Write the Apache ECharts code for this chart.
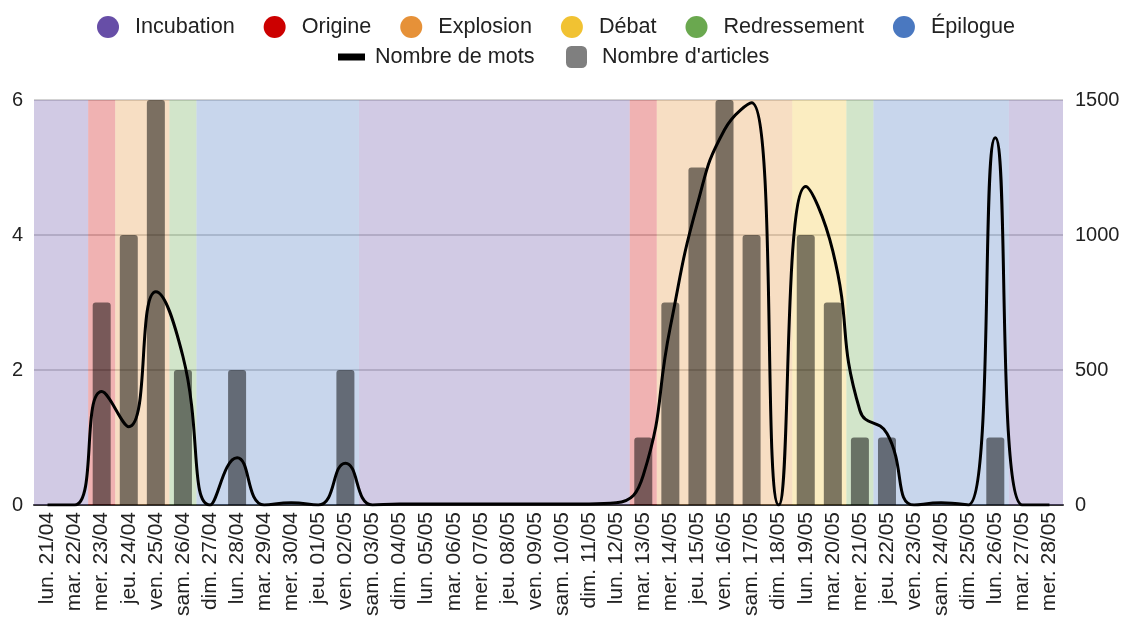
<!DOCTYPE html>
<html>
<head>
<meta charset="utf-8">
<script src="https://cdn.jsdelivr.net/npm/echarts@6/dist/echarts.min.js"></script>
<style>
  html, body { margin: 0; padding: 0; background: #fff; }
  #chart { width: 1125px; height: 621px; }
</style>
</head>
<body>
<div id="chart"></div>
<script>
// jours affichés
var categories = ['lun. 21/04', 'mar. 22/04', 'mer. 23/04', 'jeu. 24/04', 'ven. 25/04', 'sam. 26/04', 'dim. 27/04',
  'lun. 28/04', 'mar. 29/04', 'mer. 30/04', 'jeu. 01/05', 'ven. 02/05', 'sam. 03/05', 'dim. 04/05',
  'lun. 05/05', 'mar. 06/05', 'mer. 07/05', 'jeu. 08/05', 'ven. 09/05', 'sam. 10/05', 'dim. 11/05',
  'lun. 12/05', 'mar. 13/05', 'mer. 14/05', 'jeu. 15/05', 'ven. 16/05', 'sam. 17/05', 'dim. 18/05',
  'lun. 19/05', 'mar. 20/05', 'mer. 21/05', 'jeu. 22/05', 'ven. 23/05', 'sam. 24/05', 'dim. 25/05',
  'lun. 26/05', 'mar. 27/05', 'mer. 28/05'];

var articles = [0, 0, 3, 4, 6, 2, 0, 2, 0, 0, 0, 2, 0, 0, 0, 0, 0, 0, 0, 0, 0, 0,
  1, 3, 5, 6, 4, 0, 4, 3, 1, 1, 0, 0, 0, 1, 0, 0];

var mots = [0, 0, 420, 290, 790, 550, 0, 175, 0, 8, 0, 155, 0, 4, 4, 4, 4, 4, 4, 4, 4, 8,
  110, 660, 1115, 1390, 1490, 0, 1180, 940, 350, 265, 0, 8, 0, 1360, 0, 0];

var leftTicks = [0, 2, 4, 6];
var rightTicks = [0, 500, 1000, 1500];

// phases : [premier jour, dernier jour]
var incubation = [['lun. 21/04', 'mar. 22/04'], ['sam. 03/05', 'lun. 12/05'], ['mar. 27/05', 'mer. 28/05']];
var origine = [['mer. 23/04', 'mer. 23/04'], ['mar. 13/05', 'mar. 13/05']];
var explosion = [['jeu. 24/04', 'ven. 25/04'], ['mer. 14/05', 'dim. 18/05']];
var debat = [['lun. 19/05', 'mar. 20/05']];
var redressement = [['sam. 26/04', 'sam. 26/04'], ['mer. 21/05', 'mer. 21/05']];
var epilogue = [['dim. 27/04', 'ven. 02/05'], ['jeu. 22/05', 'lun. 26/05']];

var phases = [
  { name: 'Incubation', color: '#674ea7', ranges: incubation },
  { name: 'Origine', color: '#cc0000', ranges: origine },
  { name: 'Explosion', color: '#e69138', ranges: explosion },
  { name: 'Débat', color: '#f1c232', ranges: debat },
  { name: 'Redressement', color: '#6aa84f', ranges: redressement },
  { name: 'Épilogue', color: '#4a78c0', ranges: epilogue }
];

var font = "'Liberation Sans', Arial, sans-serif";

function phaseSeries(p) {
  return {
    name: p.name,
    type: 'line',
    xAxisIndex: 1,
    yAxisIndex: 0,
    data: [],
    color: p.color,
    markArea: {
      silent: true,
      itemStyle: { color: p.color, opacity: 0.3 },
      data: p.ranges.map(function (r) {
        return [{ xAxis: categories.indexOf(r[0]) }, { xAxis: categories.indexOf(r[1]) + 1 }];
      })
    }
  };
}

var chart = echarts.init(document.getElementById('chart'));
var option = {
  animation: false,
  textStyle: { fontFamily: font },
  legend: [
    {
      data: phases.map(function (p) { return p.name; }),
      left: 92, top: 11,
      icon: 'circle',
      itemWidth: 44, itemHeight: 22, itemGap: 29,
      textStyle: { fontSize: 21.6, color: '#222', fontFamily: font }
    },
    {
      data: [{ name: 'Nombre de mots', icon: 'rect' }],
      left: 333, top: 41,
      itemWidth: 27, itemHeight: 7,
      textStyle: { fontSize: 21.6, color: '#222', fontFamily: font, padding: [0, 0, 0, 5] }
    },
    {
      data: [{ name: "Nombre d'articles", icon: 'roundRect' }],
      left: 561, top: 41,
      itemWidth: 21, itemHeight: 22,
      textStyle: { fontSize: 21.6, color: '#222', fontFamily: font, padding: [0, 0, 0, 10] }
    }
  ],
  grid: { left: 34, right: 62, top: 100, bottom: 116 },
  xAxis: [
    {
      type: 'category',
      data: categories,
      axisTick: { show: false },
      axisLine: { lineStyle: { color: '#333', width: 2 } },
      axisLabel: { rotate: 90, interval: 0, margin: 7, fontSize: 21, color: '#222', fontFamily: font }
    },
    { type: 'value', min: 0, max: categories.length, show: false }
  ],
  yAxis: [
    {
      type: 'value', min: leftTicks[0], max: leftTicks[leftTicks.length - 1], interval: 2,
      axisLine: { show: false }, axisTick: { show: false },
      axisLabel: { margin: 11, fontSize: 20, color: '#222', fontFamily: font },
      splitLine: { lineStyle: { color: '#c4c4c4', width: 1.5 } }
    },
    {
      type: 'value', min: rightTicks[0], max: rightTicks[rightTicks.length - 1], interval: 500,
      axisLine: { show: false }, axisTick: { show: false },
      axisLabel: {
        margin: 12, fontSize: 20, color: '#222', fontFamily: font,
        formatter: function (v) { return String(v); }
      },
      splitLine: { show: false }
    }
  ],
  series: phases.map(phaseSeries).concat([
    {
      name: "Nombre d'articles",
      type: 'bar',
      yAxisIndex: 0,
      data: articles,
      barWidth: 18,
      z: 3,
      itemStyle: { color: 'rgba(0,0,0,0.5)', borderRadius: [3, 3, 0, 0] }
    },
    {
      name: 'Nombre de mots',
      type: 'line',
      yAxisIndex: 1,
      data: mots,
      smooth: true,
      symbol: 'none',
      z: 4,
      color: '#000',
      lineStyle: { color: '#000', width: 3 }
    }
  ])
};
chart.setOption(option);
</script>
</body>
</html>
